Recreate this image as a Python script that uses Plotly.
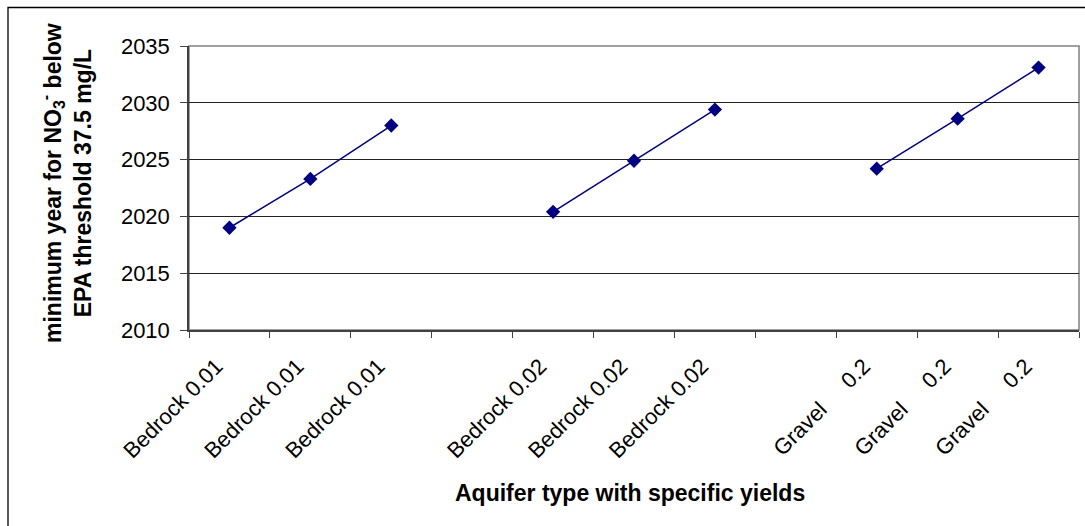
import plotly.graph_objects as go

# ---- data ----
categories = ["Bedrock 0.01", "Bedrock 0.01", "Bedrock 0.01", "",
              "Bedrock 0.02", "Bedrock 0.02", "Bedrock 0.02", "",
              "Gravel\u00a0\u00a0\u00a0\u00a0 0.2", "Gravel\u00a0\u00a0\u00a0\u00a0 0.2", "Gravel\u00a0\u00a0\u00a0\u00a0 0.2"]
years = [2019.0, 2023.3, 2028.0, None,
         2020.4, 2024.9, 2029.4, None,
         2024.2, 2028.6, 2033.1]
y_ticks = [2010, 2015, 2020, 2025, 2030, 2035]

x_idx = list(range(len(categories)))
boundaries = [i - 0.5 for i in range(len(categories) + 1)]
pad = "\u00a0\u00a0\u00a0"
tick_text = [c + pad if c else c for c in categories]

FONT = "Arial, Liberation Sans, sans-serif"
W, H = 1085, 526
L, R, T, B = 189, 6, 46, 196
pw, ph = W - L - R, H - T - B

fig = go.Figure()
fig.add_trace(go.Scatter(
    x=x_idx, y=years, mode="lines+markers",
    connectgaps=False,
    line=dict(color="#000080", width=1.5),
    marker=dict(symbol="diamond", size=11, color="#000080"),
    showlegend=False, cliponaxis=False,
))

fig.update_layout(
    width=W, height=H,
    margin=dict(l=L, r=R, t=T, b=B, autoexpand=False),
    paper_bgcolor="white", plot_bgcolor="white",
    font=dict(family=FONT, color="black", size=22),
    xaxis=dict(
        range=[-0.5, len(categories) - 0.5],
        tickmode="array", tickvals=x_idx, ticktext=tick_text,
        tickangle=-45, ticks="", showgrid=False, zeroline=False,
        showline=True, linecolor="#404040", linewidth=1.5,
        tickfont=dict(size=22, family=FONT),
        minor=dict(tickmode="array", tickvals=boundaries, ticks="outside",
                   ticklen=6, tickcolor="#404040", tickwidth=1, showgrid=False),
        automargin=False,
    ),
    yaxis=dict(
        range=[2010, 2035], tickmode="array", tickvals=y_ticks,
        ticks="outside", ticklen=7, tickcolor="#404040",
        showgrid=True, gridcolor="#222222", gridwidth=1,
        zeroline=False, showline=True, linecolor="#404040", linewidth=1.5,
        tickfont=dict(size=22, family=FONT), ticklabelstandoff=6,
        automargin=False,
    ),
    shapes=[
        # plot area border
        dict(type="rect", xref="paper", yref="paper", x0=0, x1=1, y0=0, y1=1,
             line=dict(color="#808080", width=1.5), layer="below"),
        # outer chart border
        dict(type="rect", xref="paper", yref="paper",
             x0=(8 - L) / pw, x1=(W + 20 - L) / pw,
             y0=(H - B - (H + 20)) / ph, y1=(H - B - 7.5) / ph,
             line=dict(color="black", width=1.3)),
    ],
    annotations=[
        dict(text="<b>minimum year for NO<sub>3</sub><sup>-</sup> below<br>EPA threshold 37.5 mg/L</b>",
             xref="paper", yref="paper", x=(66 - L) / pw, y=(H - B - 183) / ph,
             xanchor="center", yanchor="middle", textangle=-90, showarrow=False,
             font=dict(size=23, family=FONT)),
        dict(text="<b>Aquifer type with specific yields</b>",
             xref="paper", yref="paper", x=(630 - L) / pw, y=(H - B - 493) / ph,
             xanchor="center", yanchor="middle", showarrow=False,
             font=dict(size=23, family=FONT)),
    ],
)

fig.write_html("out.html")
